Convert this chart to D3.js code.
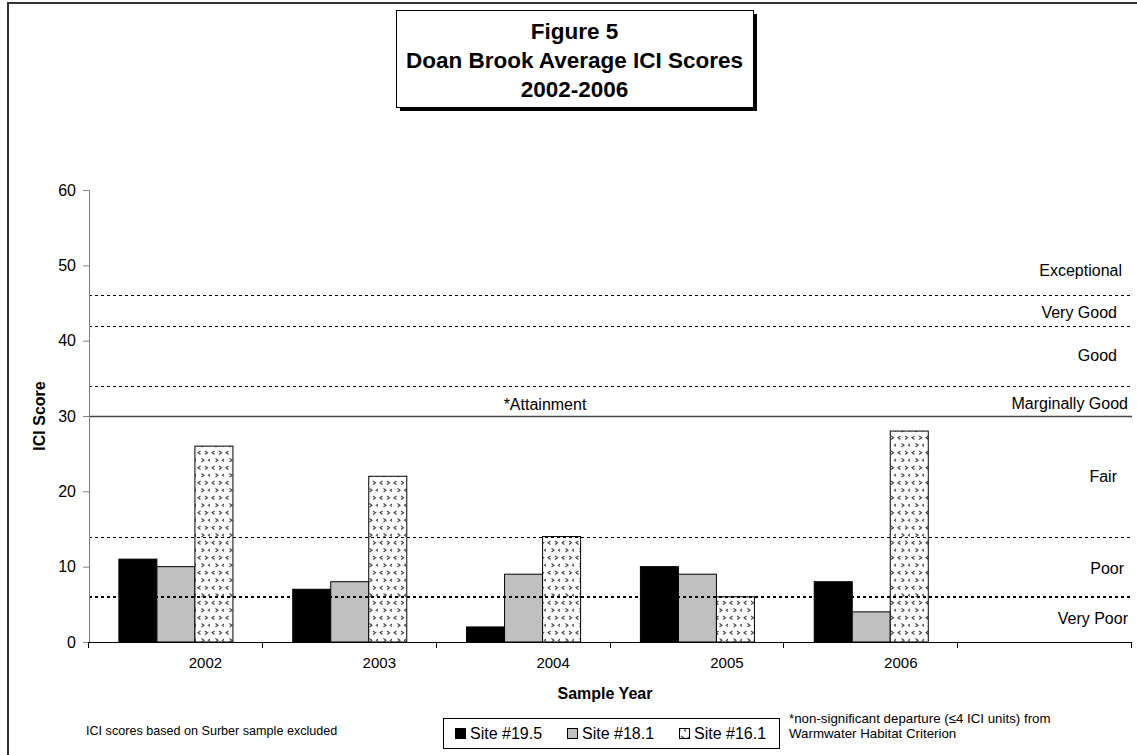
<!DOCTYPE html>
<html>
<head>
<meta charset="utf-8">
<script src="https://cdn.jsdelivr.net/npm/d3@7"></script>
<style>
  html, body { margin: 0; padding: 0; background: #fff; }
  svg { display: block; font-family: "Liberation Sans", Arial, sans-serif; }
</style>
</head>
<body>
<svg id="chart" width="1137" height="755"></svg>
<script>
// ICI scores per sampling year, one array per site
const years = ["2002", "2003", "2004", "2005", "2006"];
const sites = ["Site #19.5", "Site #18.1", "Site #16.1"];
const site195 = [11, 7, 2, 10, 8];
const site181 = [10, 8, 9, 9, 4];
const site161 = [26, 22, 14, 6, 28];
const yTicks = [0, 10, 20, 30, 40, 50, 60];

// Narrative-rating thresholds and the bands they separate
const thresholds = [46, 42, 34, 14];
const attainment = 30;
const nonSignificant = 6;
const ratingNames = ["Exceptional", "Very Good", "Good", "Marginally Good", "Fair", "Poor", "Very Poor"];
const ratingLevels = [49.4, 43.8, 38.1, 31.7, 22, 9.8, 3.2];

const seriesValues = [site195, site181, site161];
const svg = d3.select("#chart");

// Outer frame
svg.append("rect").attr("x", 8).attr("y", 3).attr("width", 1160).attr("height", 800)
  .attr("fill", "none").attr("stroke", "#333").attr("stroke-width", 2);

// Chevron fill for the third site
const defs = svg.append("defs");
const pat = defs.append("pattern").attr("id", "chev").attr("patternUnits", "userSpaceOnUse")
  .attr("width", 14).attr("height", 15);
pat.append("rect").attr("width", 14).attr("height", 15).attr("fill", "#fff");
const left = "M3.5,0 L1,1.75 L3.5,3.5";
const right = "M1,0 L3.5,1.75 L1,3.5";
[[left, 1, 1], [right, 8, 1], [right, 4.5, 8.5], [left, 11.5, 8.5]].forEach(([d, tx, ty]) => {
  pat.append("path").attr("d", d).attr("transform", `translate(${tx},${ty})`)
    .attr("fill", "none").attr("stroke", "#444").attr("stroke-width", 1.1);
});
const fills = ["#000", "#c0c0c0", "url(#chev)"];

// Scales
const plot = { left: 89, right: 1132, top: 190, bottom: 642 };
const slots = years.concat([""]);
const x = d3.scaleBand().domain(slots).range([plot.left, plot.right]);
const bw = x.bandwidth();
const x1 = d3.scaleBand().domain(sites).range([bw * 0.172, bw * 0.828]);
const y = d3.scaleLinear().domain([0, 60]).range([plot.bottom, plot.top]);

// Title box with drop shadow
const tb = { x: 396, y: 10, w: 357, h: 97 };
svg.append("rect").attr("x", tb.x + 4).attr("y", tb.y + 4).attr("width", tb.w).attr("height", tb.h).attr("fill", "#000");
svg.append("rect").attr("x", tb.x + 0.5).attr("y", tb.y + 0.5).attr("width", tb.w).attr("height", tb.h)
  .attr("fill", "#fff").attr("stroke", "#000").attr("stroke-width", 1);
["Figure 5", "Doan Brook Average ICI Scores", "2002-2006"].forEach((t, i) => {
  svg.append("text").attr("x", tb.x + tb.w / 2).attr("y", tb.y + 29 + i * 29)
    .attr("text-anchor", "middle").attr("font-size", 22.5).attr("font-weight", "bold").text(t);
});

// Bars
const g = svg.append("g");
years.forEach((yr, i) => {
  sites.forEach((s, j) => {
    const v = seriesValues[j][i];
    g.append("rect")
      .attr("x", x(yr) + x1(s)).attr("y", y(v))
      .attr("width", x1.bandwidth()).attr("height", y(0) - y(v))
      .attr("fill", fills[j]).attr("stroke", "#000").attr("stroke-width", 1);
  });
});

// Rating thresholds
thresholds.forEach(t => {
  svg.append("line").attr("x1", plot.left).attr("x2", plot.right)
    .attr("y1", Math.round(y(t)) + 0.5).attr("y2", Math.round(y(t)) + 0.5)
    .attr("stroke", "#000").attr("stroke-width", 1).attr("stroke-dasharray", "3,3");
});
svg.append("line").attr("x1", plot.left).attr("x2", plot.right)
  .attr("y1", Math.round(y(attainment)) + 0.5).attr("y2", Math.round(y(attainment)) + 0.5)
  .attr("stroke", "#444").attr("stroke-width", 1.3);
svg.append("line").attr("x1", plot.left).attr("x2", plot.right)
  .attr("y1", Math.round(y(nonSignificant))).attr("y2", Math.round(y(nonSignificant)))
  .attr("stroke", "#000").attr("stroke-width", 2).attr("stroke-dasharray", "3,3");

// Rating labels (each sits in its own text box, so right edges differ slightly)
const ratingRight = [1122, 1117, 1117, 1128, 1117, 1124, 1128];
ratingNames.forEach((n, i) => {
  svg.append("text").attr("x", ratingRight[i]).attr("y", y(ratingLevels[i]) + 6)
    .attr("text-anchor", "end").attr("font-size", 16).text(n);
});
svg.append("text").attr("x", 545).attr("y", y(attainment) - 6)
  .attr("text-anchor", "middle").attr("font-size", 16).text("*Attainment");

// Y axis
const yAxis = svg.append("g").attr("transform", `translate(${plot.left},0)`)
  .call(d3.axisLeft(y).tickValues(yTicks).tickSize(6).tickPadding(7));
yAxis.select(".domain").attr("stroke", "#808080");
yAxis.selectAll(".tick line").attr("stroke", "#808080");
yAxis.selectAll(".tick text").attr("font-size", 16).attr("fill", "#000")
  .attr("font-family", "Liberation Sans, Arial, sans-serif");

// X axis: ticks at category boundaries
svg.append("line").attr("x1", plot.left).attr("x2", plot.right)
  .attr("y1", plot.bottom + 0.5).attr("y2", plot.bottom + 0.5).attr("stroke", "#000");
slots.concat(["end"]).forEach(c => {
  const xp = Math.round(c === "end" ? plot.right : x(c)) - 0.5;
  svg.append("line").attr("x1", xp).attr("x2", xp).attr("y1", plot.bottom).attr("y2", plot.bottom + 6)
    .attr("stroke", "#000");
});
years.forEach(yr => {
  svg.append("text").attr("x", x(yr) + bw * 0.67).attr("y", plot.bottom + 26)
    .attr("text-anchor", "middle").attr("font-size", 15).text(yr);
});

// Axis titles
svg.append("text").attr("x", 605).attr("y", 699).attr("text-anchor", "middle")
  .attr("font-size", 16).attr("font-weight", "bold").text("Sample Year");
svg.append("text").attr("transform", `translate(45,${(plot.top + plot.bottom) / 2}) rotate(-90)`)
  .attr("text-anchor", "middle").attr("font-size", 16).attr("font-weight", "bold").text("ICI Score");

// Legend
const lg = svg.append("g");
lg.append("rect").attr("x", 443.5).attr("y", 718.5).attr("width", 336).attr("height", 30)
  .attr("fill", "#fff").attr("stroke", "#000");
const legendX = [455, 567, 679];
sites.forEach((s, j) => {
  lg.append("rect").attr("x", legendX[j] + 0.5).attr("y", 728.5).attr("width", 10).attr("height", 10)
    .attr("fill", fills[j]).attr("stroke", "#000");
  lg.append("text").attr("x", legendX[j] + 15).attr("y", 739).attr("font-size", 16).text(s);
});

// Footnotes
svg.append("text").attr("x", 86).attr("y", 735).attr("font-size", 12.6)
  .text("ICI scores based on Surber sample excluded");
svg.append("text").attr("x", 789).attr("y", 723).attr("font-size", 13.3)
  .text("*non-significant departure (\u22644 ICI units) from");
svg.append("text").attr("x", 789).attr("y", 738).attr("font-size", 13.3)
  .text("Warmwater Habitat Criterion");
</script>
</body>
</html>
